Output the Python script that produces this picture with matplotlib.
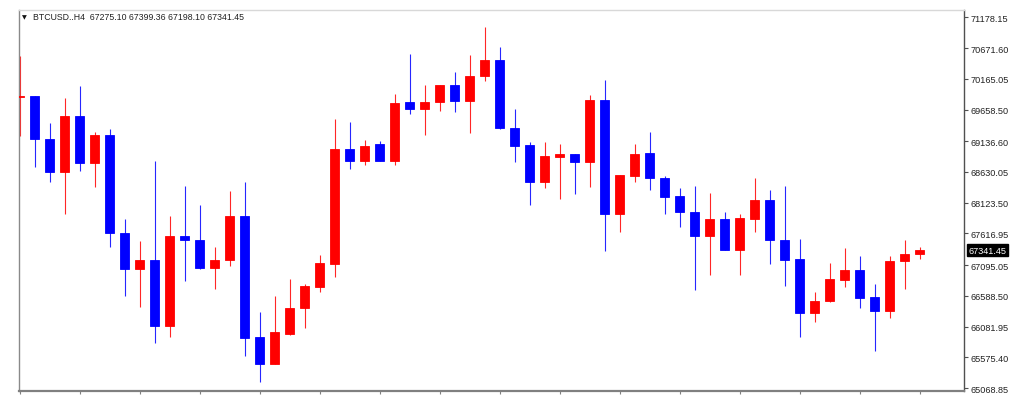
import matplotlib
matplotlib.use("Agg")
import matplotlib.pyplot as plt
import matplotlib.transforms as mtransforms
import numpy as np

symbol = "BTCUSD..H4"

opens = [69864.7, 69876.2, 69172.5, 68633.6, 69546.6, 68772.0, 69238.4, 67618.4, 67030.1, 67183.4,
         66085.8, 67569.0, 67508.0, 67051.5, 67178.4, 67898.6, 65904.5, 65464.5, 65958.9, 66382.4,
         66728.5, 67112.5, 69007.7, 68814.9, 69085.2, 68814.9, 69777.3, 69666.9, 69777.3, 70062.4,
         69803.7, 70205.8, 70479.4, 69348.8, 69073.6, 68468.8, 68880.8, 68925.3, 68798.4, 69815.2,
         67936.5, 68567.7, 68941.8, 68529.8, 68228.2, 67974.4, 67569.0, 67854.1, 67348.2, 67854.1,
         68172.2, 67508.0, 67190.0, 66300.1, 66497.8, 66853.8, 67018.6, 66573.6, 66333.0, 67161.9,
         67275.10]
highs = [70535.4, 69880.0, 69436.2, 69843.2, 70041.0, 69282.9, 69337.3, 67854.1, 67486.6, 68805.0,
         67908.5, 68402.9, 68084.8, 67387.7, 68320.5, 68458.9, 66326.4, 66590.1, 66865.3, 66782.9,
         67260.8, 69502.1, 69457.6, 69161.0, 69144.5, 69909.2, 70573.3, 70062.4, 70070.0, 70281.6,
         70556.8, 71013.3, 70693.6, 69666.9, 69118.1, 69118.1, 69090.1, 68930.0, 69897.6, 70149.8,
         68585.0, 69090.1, 69282.9, 68557.8, 68360.0, 68402.9, 68282.6, 67974.4, 67936.5, 68529.8,
         68332.0, 68393.0, 67524.5, 66646.1, 67129.0, 67376.2, 67249.3, 66787.8, 67249.3, 67503.1,
         67399.36]
lows = [69226.9, 68706.1, 68458.9, 67936.5, 68650.1, 68386.4, 67397.6, 66590.1, 66408.8, 65805.7,
        65914.4, 66837.3, 67035.0, 66700.5, 67084.5, 65601.3, 65172.8, 65460.0, 65950.0, 66052.8,
        66656.0, 66903.2, 68678.1, 68749.0, 68810.0, 68749.0, 69584.5, 69243.4, 69633.9, 69617.5,
        69271.4, 70133.3, 69340.0, 68798.4, 68084.8, 68360.0, 68183.7, 68266.1, 68386.4, 67331.7,
        67644.8, 68458.9, 68337.0, 67936.5, 67717.3, 66684.0, 66931.2, 67340.0, 66931.2, 67644.8,
        67112.5, 66754.9, 65914.4, 66161.6, 66490.0, 66738.4, 66382.4, 65683.7, 66222.6, 66700.5,
        67198.10]
closes = [69876.2, 69172.5, 68633.6, 69546.6, 68772.0, 69238.4, 67618.4, 67030.1, 67183.4, 66085.8,
          67569.0, 67503.1, 67041.6, 67173.5, 67898.6, 65897.9, 65464.5, 65986.9, 66392.3, 66754.9,
          67129.0, 69007.7, 68814.9, 69062.1, 68814.9, 69765.8, 69666.9, 69777.3, 70062.4, 69803.7,
          70215.7, 70479.4, 69348.8, 69062.1, 68468.8, 68887.4, 68925.3, 68798.4, 69815.2, 67936.5,
          68579.2, 68925.3, 68524.8, 68211.7, 67964.5, 67569.0, 67854.1, 67348.2, 67865.6, 68172.2,
          67503.1, 67178.4, 66300.1, 66507.7, 66865.3, 67018.6, 66557.1, 66333.0, 67166.9, 67282.2,
          67341.45]

ytick_values = [71178.15, 70671.60, 70165.05, 69658.50, 69136.60, 68630.05, 68123.50,
                67616.95, 67095.05, 66588.50, 66081.95, 65575.40, 65068.85]

up_color = "#ff0000"
down_color = "#0000ff"

W, H = 1024, 402
fig = plt.figure(figsize=(W / 100, H / 100), dpi=100)
fig.patch.set_facecolor("white")
left_px, right_px, top_px, bottom_px = 19, 964, 10.7, 392
ax = fig.add_axes([left_px / W, (H - bottom_px) / H,
                   (right_px - left_px) / W, (bottom_px - top_px) / H])

o = np.array(opens); h = np.array(highs); l = np.array(lows); c = np.array(closes)
x = np.arange(len(o))
colors = [up_color if cc >= oo else down_color for oo, cc in zip(o, c)]

ax.vlines(x, l, h, colors=colors, linewidth=0.8, alpha=0.85, zorder=2)
bottoms = np.minimum(o, c)
heights = np.maximum(np.abs(c - o), 8.0)
ax.bar(x, heights, bottom=bottoms, width=0.62, color=colors, edgecolor=colors,
       linewidth=0.6, zorder=3)

ax.set_xlim(-0.05, 62.95)
ax.set_ylim(65019.5, 71303.4)

# axes styling
ax.spines["left"].set_color("#8a8a8a")
ax.spines["left"].set_linewidth(1.0)
ax.spines["top"].set_color("#d8d8d8")
ax.spines["top"].set_linewidth(1.0)
ax.spines["right"].set_color("#505050")
ax.spines["right"].set_linewidth(1.0)
ax.spines["bottom"].set_color("#808080")
ax.spines["bottom"].set_linewidth(1.6)

ax.yaxis.tick_right()
ax.set_yticks(ytick_values)
ax.set_yticklabels([f"{v:.2f}" for v in ytick_values], family="Liberation Sans",
                   fontsize=6.6, color="#222222")
ax.tick_params(axis="y", direction="out", length=3, width=0.8, color="#505050", pad=1.5)
ax.set_xticks(np.arange(0, len(o), 4))
ax.set_xticklabels([])
ax.tick_params(axis="x", direction="out", length=2.5, width=0.8, color="#808080")

# current price box on the right axis
trans = mtransforms.blended_transform_factory(ax.transAxes, ax.transData)
ax.text(1.0045, c[-1], f"{c[-1]:.2f}", transform=trans, ha="left", va="center",
        fontsize=6.6, family="Liberation Sans", color="white",
        bbox=dict(boxstyle="square,pad=0.15", facecolor="black", edgecolor="black"),
        clip_on=False, zorder=5)

# header text
fig.text(22 / W, 1 - 17.5 / H, "\u25BC", fontsize=4.5, family="DejaVu Sans",
         color="#111111", va="center", ha="left")
header = f"{symbol}  {o[-1]:.2f} {h[-1]:.2f} {l[-1]:.2f} {c[-1]:.2f}"
fig.text(33 / W, 1 - 17 / H, header, fontsize=6.3, family="Liberation Sans",
         color="#222222", va="center", ha="left")

fig.savefig("out.png", dpi=100, facecolor="white")
